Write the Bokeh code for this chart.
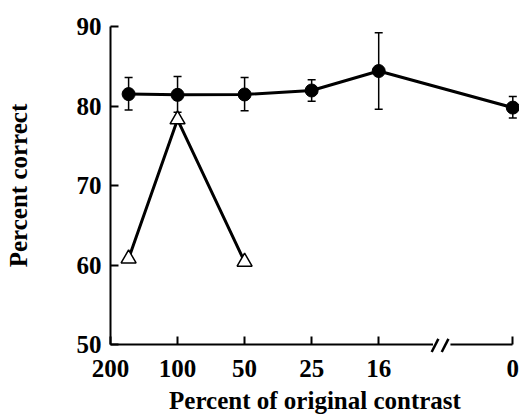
from bokeh.plotting import figure
from bokeh.models import Range1d, FixedTicker, Whisker, ColumnDataSource, TeeHead
from bokeh.embed import file_html
from bokeh.resources import INLINE

# ---- data ----
contrast_labels = ["200", "100", "50", "25", "16", "0"]
contrast_pos = [0, 1, 2, 3, 4, 6]          # axis slot of each condition (axis break between 16 and 0)
full_mean = [81.5, 81.4, 81.45, 81.95, 84.4, 79.8]
full_upper = [83.6, 83.7, 83.6, 83.3, 89.2, 81.2]
full_lower = [79.5, 79.2, 79.4, 80.6, 79.6, 78.5]
partial_mean = [60.8, 78.3, 60.4]          # conditions 200, 100, 50
first_offset = 0.27                        # 200 % points are drawn just right of the y axis
break_pos = 4.95

FONT = "Liberation Serif"

xs_full = [p + (first_offset if i == 0 else 0) for i, p in enumerate(contrast_pos)]
xs_part = xs_full[:len(partial_mean)]

p = figure(width=519, height=416, output_backend="svg", toolbar_location=None,
           x_range=Range1d(0, 6.1), y_range=Range1d(50, 90),
           min_border_left=110, min_border_right=0, min_border_top=26, min_border_bottom=72)
p.outline_line_color = None
p.grid.visible = False
p.background_fill_color = "white"

src_full = ColumnDataSource(dict(x=xs_full, y=full_mean, up=full_upper, lo=full_lower))
src_part = ColumnDataSource(dict(x=xs_part, y=partial_mean))

p.add_layout(Whisker(source=src_full, base="x", upper="up", lower="lo", dimension="height",
                     line_color="black", line_width=1.5,
                     upper_head=TeeHead(size=8, line_color="black", line_width=1.5),
                     lower_head=TeeHead(size=8, line_color="black", line_width=1.5)))
p.line("x", "y", source=src_full, line_color="black", line_width=3)
p.scatter("x", "y", source=src_full, marker="circle", size=13, fill_color="black", line_color="black")

p.line("x", "y", source=src_part, line_color="black", line_width=3)
p.scatter("x", "y", source=src_part, marker="triangle", size=15, fill_color="white",
          line_color="black", line_width=1.5)

# axis break
brk = ColumnDataSource(dict(l=[break_pos - 0.14], r=[break_pos + 0.12], b=[49.0], t=[50.6]))
p.quad(left="l", right="r", bottom="b", top="t", source=brk, fill_color="white",
       line_color=None, level="overlay")
sl = ColumnDataSource(dict(x0=[break_pos - 0.16, break_pos - 0.01], y0=[49.05, 49.05],
                           x1=[break_pos - 0.06, break_pos + 0.09], y1=[50.7, 50.7]))
p.segment("x0", "y0", "x1", "y1", source=sl, line_color="black", line_width=2.5, level="overlay")

# axes
xa = p.xaxis[0]
xa.ticker = FixedTicker(ticks=contrast_pos)
xa.major_label_overrides = {pos: lab for pos, lab in zip(contrast_pos, contrast_labels)}
xa.bounds = (0, 6)
xa.axis_label = "Percent of original contrast"
ya = p.yaxis[0]
ya.ticker = FixedTicker(ticks=[50, 60, 70, 80, 90])
ya.axis_label = "Percent correct"

for ax in (xa, ya):
    ax.axis_line_color = "black"
    ax.axis_line_width = 2
    ax.major_tick_line_color = "black"
    ax.major_tick_line_width = 2
    ax.major_tick_in = 8
    ax.major_tick_out = 0
    ax.minor_tick_line_color = None
    ax.major_label_text_font = FONT
    ax.major_label_text_font_style = "bold"
    ax.major_label_text_font_size = "25px"
    ax.major_label_text_color = "black"
    ax.axis_label_text_font = FONT
    ax.axis_label_text_font_style = "bold"
    ax.axis_label_text_font_size = "25px"
    ax.axis_label_text_color = "black"

ya.major_label_standoff = 9
ya.axis_label_standoff = 42
xa.major_label_standoff = 15
xa.axis_label_standoff = 7

open("out.html", "w").write(file_html(p, INLINE))
